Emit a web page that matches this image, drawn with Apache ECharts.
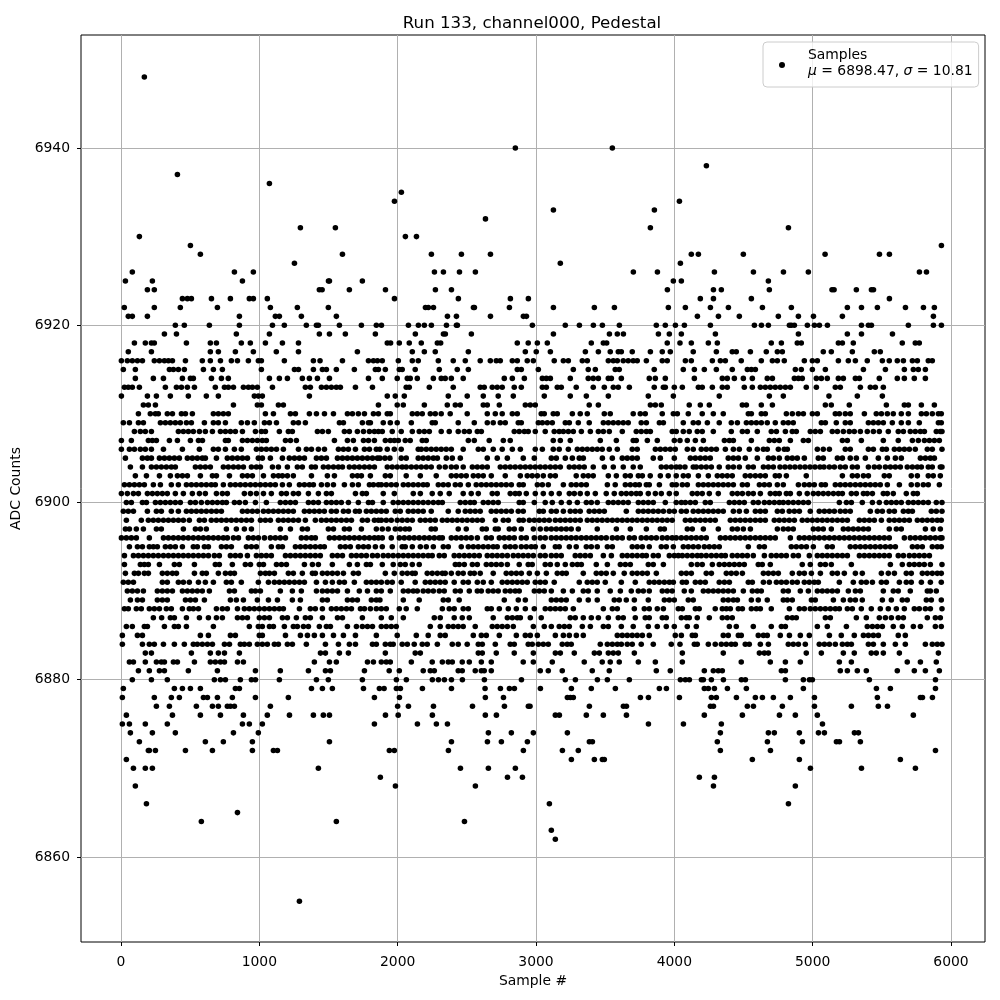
<!DOCTYPE html>
<html><head><meta charset="utf-8"><style>html,body{margin:0;padding:0;background:#fff}#c{width:1000px;height:1000px}</style>
<script src="https://cdn.jsdelivr.net/npm/echarts@6/dist/echarts.min.js"></script></head><body><div id="c"></div>
<script>
const xTicks=[0,1000,2000,3000,4000,5000,6000];
const yTicks=[6860,6880,6900,6920,6940];
const s6948=[169];
const s6940=[2851,3552];
const s6938=[4232];
const s6937=[408];
const s6936=[1073];
const s6935=[2027];
const s6934=[1977,4037];
const s6933=[3126,3856];
const s6932=[2635];
const s6931=[1297,1550,3827,4825];
const s6930=[133,2056,2136];
const s6929=[502,5931];
const s6928=[574,1601,2244,2461,2671,4123,4174,4499,5090,5483,5555];
const s6927=[1254,3176,4044];
const s6926=[82,820,957,2266,2331,2447,2562,3704,3878,4290,4572,4789,4969,5772,5823];
const s6925=[32,227,878,1500,1507,1745,3993,4051,4680];
const s6924=[191,241,1434,1454,1651,1912,2273,2389,3950,4283,4340,4687,5140,5155,5316,5425,5440];
const s6923=[444,480,509,654,791,928,957,1058,1977,2439,2815,2945,4188,4283,4557,5555];
const s6922=[24,241,429,697,1080,1275,1499,2201,2222,2259,2548,2555,2808,3126,3422,3567,3957,4080,4261,4391,4637,4846,5251,5353,5468,5671,5801,5880];
const s6921=[53,82,191,856,1116,1145,1304,1557,2360,2425,2671,2909,2931,4167,4319,4470,4752,4897,5006,5215,5873];
const s6920=[393,458,639,856,1095,1181,1340,1413,1427,1579,1738,1846,1883,2078,2150,2193,2244,2353,2425,2432,2974,3212,3314,3415,3480,3603,3870,3935,4008,4073,4261,4579,4630,4680,4832,4846,4868,4962,5013,5049,5107,5353,5403,5425,5692,5873,5931];
const s6919=[314,401,834,1073,1434,1507,1622,1839,2128,2331,2345,2533,3126,3531,3588,3632,3885,3964,4051,4297,4897,5251,5353,5577];
const s6918=[97,176,220,241,473,646,690,870,935,1044,1167,1283,1925,1949,2012,2084,2171,2287,2311,2865,2944,3010,3082,3400,3487,3511,3949,4041,4123,4246,4311,4701,4774,4889,4918,5186,5215,5294,5648,5742,5771];
const s6917=[53,220,646,704,827,957,1123,1283,1709,2106,2193,2272,2511,2923,3002,3104,3357,3451,3537,3595,3617,3696,3827,3913,3971,4137,4304,4419,4448,4550,4665,4745,4781,5077,5135,5287,5446,5489];
const s6916=[3,46,82,119,155,241,278,314,343,372,466,588,646,719,798,842,921,993,1015,1181,1391,1439,1601,1789,1825,1854,1889,2005,2106,2149,2294,2402,2489,2597,2670,2713,2742,2829,2865,2937,2981,3132,3198,3234,3335,3371,3523,3559,3588,3631,3667,3703,3732,3798,3913,3949,4080,4123,4275,4333,4369,4484,4629,4709,4745,4795,4940,4998,5034,5186,5258,5309,5395,5504,5554,5612,5656,5721,5757,5836,5865];
const s6915=[17,104,350,379,415,458,596,668,733,1015,1254,1283,1391,1456,1485,1557,1687,1839,1861,1911,2012,2033,2127,2301,2431,2511,2865,2894,3017,3270,3378,3429,3573,3602,3855,4065,4145,4217,4304,4419,4528,4557,4586,4875,4918,4998,5092,5367,5526,5663,5728,5764,5815];
const s6914=[104,234,307,444,502,523,654,726,776,1073,1145,1203,1311,1362,1420,1507,1789,1889,1997,2070,2091,2142,2258,2315,2344,2388,2474,2771,2829,2916,3046,3075,3104,3248,3378,3414,3451,3523,3545,3617,3819,3863,3935,4145,4347,4383,4434,4499,4564,4672,4709,4868,4897,4925,5027,5063,5106,5186,5222,5309,5338,5482,5612,5663,5735,5815];
const s6913=[25,53,82,133,321,401,437,480,531,682,748,776,813,885,921,950,986,1095,1333,1369,1449,1485,1521,1557,1586,1695,1818,2062,2084,2229,2402,2597,2626,2684,2720,2756,2843,2894,3046,3075,3154,3183,3291,3414,3494,3559,3595,3675,3855,3921,3935,4000,4058,4174,4202,4275,4347,4383,4506,4564,4622,4658,4694,4730,4766,4803,4839,4954,5027,5164,5200,5345,5417,5453,5511];
const s6912=[3,191,256,357,487,617,704,964,993,1022,1362,1925,1983,2048,2366,2503,2619,2727,2836,3060,3248,3364,3523,3812,3993,4325,4687,4788,5118,5323,5504];
const s6911=[162,198,249,813,986,1015,1138,1174,1861,1997,2041,2193,2359,2417,2453,2619,2648,2735,2923,2959,2995,3385,3451,3827,3863,3906,4108,4188,4253,4492,4521,4629,4709,5092,5135,5265,5533,5663,5692,5786,5880];
const s6910=[126,212,249,270,335,372,437,466,516,668,704,740,776,1044,1102,1225,1261,1362,1413,1471,1536,1637,1673,1716,1760,1825,1861,1925,1947,2106,2142,2178,2236,2272,2315,2380,2503,2648,2706,2756,2829,2865,3038,3060,3125,3154,3263,3320,3371,3494,3537,3703,3754,3790,3913,3993,4022,4101,4202,4282,4354,4535,4557,4629,4658,4810,4853,4897,4933,4998,5034,5164,5193,5236,5272,5374,5460,5497,5540,5583,5641,5692,5786,5822,5865,5909,5930];
const s6909=[17,61,126,162,285,321,357,393,429,473,509,603,668,704,755,870,914,964,1037,1073,1124,1246,1283,1333,1579,1608,1745,1789,1803,1896,1947,1997,2099,2250,2272,2438,2554,2648,2691,2742,2778,2872,2894,3017,3046,3082,3118,3212,3241,3306,3385,3487,3523,3559,3595,3631,3667,3761,3798,3892,3921,4065,4137,4174,4239,4325,4412,4456,4521,4557,4593,4629,4672,4730,4788,4824,4860,5063,5092,5171,5236,5272,5403,5439,5475,5511,5576,5641,5692,5771,5909,5930];
const s6908=[97,140,176,220,415,451,487,523,567,610,661,719,755,791,827,878,972,1015,1044,1145,1210,1239,1420,1456,1499,1615,1651,1709,1753,1796,1832,1861,1889,1961,2026,2106,2156,2193,2229,2315,2373,2438,2482,2518,2576,2605,2843,2879,2916,2944,2995,3067,3132,3168,3198,3234,3270,3328,3393,3451,3487,3530,3624,3725,3761,3798,3827,3985,4014,4065,4108,4166,4202,4282,4412,4492,4528,4600,4701,4738,4803,4853,4882,4983,5019,5056,5142,5179,5222,5265,5301,5345,5395,5439,5482,5547,5619,5656,5706,5742,5779,5808,5894,5923,5935];
const s6907=[3,75,198,227,256,350,408,502,560,589,755,776,878,914,950,986,1022,1051,1189,1225,1268,1543,1637,1680,1753,1789,1832,1911,1947,1976,2005,2055,2091,2178,2207,2511,2554,2662,2764,2814,3125,3176,3248,3465,3581,3703,3725,3805,3877,4000,4041,4094,4152,4210,4362,4398,4427,4557,4687,4723,4759,4839,4933,4969,5215,5251,5352,5511,5619,5721,5764,5808,5844,5880,5916];
const s6906=[3,61,97,140,176,220,307,444,567,668,704,755,820,870,979,1015,1051,1087,1124,1174,1283,1340,1377,1427,1471,1572,1608,1644,1695,1760,1796,1846,1872,1925,1976,2026,2149,2171,2207,2243,2279,2315,2351,2388,2474,2583,2619,2691,2756,2829,2887,2995,3046,3125,3168,3234,3299,3335,3371,3407,3443,3479,3530,3588,3696,3732,3863,3899,3935,3971,4007,4094,4137,4195,4231,4268,4304,4369,4427,4470,4542,4600,4644,4672,4752,4795,4817,5034,5077,5121,5236,5272,5403,5439,5504,5533,5591,5627,5663,5699,5742,5829,5865,5935];
const s6905=[32,155,191,220,278,314,350,386,422,480,516,552,588,610,690,769,805,842,878,914,993,1022,1080,1167,1217,1254,1290,1326,1413,1449,1485,1565,1601,1637,1673,1709,1745,1782,1818,1854,1872,1908,1944,2026,2062,2149,2185,2221,2258,2287,2352,2395,2453,2648,2720,2793,2908,2988,3111,3147,3212,3263,3313,3342,3480,3552,3624,3660,3696,3732,3848,3899,4000,4116,4152,4188,4224,4260,4390,4427,4463,4513,4600,4680,4716,4759,4817,4853,4889,4940,5041,5077,5179,5215,5272,5316,5381,5475,5540,5598,5641,5779,5815,5851,5880];
const s6904=[68,155,220,256,292,328,364,393,538,574,610,646,740,776,813,849,885,943,979,1008,1095,1138,1203,1275,1311,1377,1405,1463,1499,1536,1572,1601,1651,1687,1723,1760,1796,1832,1925,1961,1997,2033,2062,2099,2135,2171,2207,2243,2301,2344,2388,2424,2474,2540,2576,2612,2648,2742,2778,2814,2850,2887,2923,2959,2995,3031,3067,3104,3140,3176,3241,3277,3313,3349,3414,3494,3559,3631,3703,3754,3906,3942,3978,4014,4041,4077,4137,4159,4195,4231,4268,4325,4390,4427,4470,4535,4571,4644,4680,4716,4764,4800,4836,4872,4909,4945,4981,5017,5053,5082,5121,5157,5200,5236,5287,5323,5403,5446,5482,5526,5562,5598,5634,5684,5721,5757,5786,5836,5865,5923,5935];
const s6903=[104,184,278,357,408,444,480,574,661,690,784,878,914,950,1030,1102,1138,1167,1203,1246,1377,1492,1543,1673,1709,1738,1803,1911,1947,2062,2164,2279,2388,2424,2460,2496,2547,2583,2619,2677,2778,2887,2937,2973,3010,3053,3104,3140,3291,3342,3378,3414,3523,3581,3646,3682,3740,3769,3826,3899,3956,4014,4065,4101,4174,4246,4311,4347,4383,4419,4513,4549,4586,4622,4658,4730,4759,4810,4954,5215,5287,5323,5367,5403,5518,5554,5713,5757,5836,5872,5923];
const s6902=[25,61,97,133,169,234,285,364,415,473,509,545,581,617,653,682,740,791,827,863,899,936,972,1008,1044,1080,1116,1167,1217,1290,1326,1362,1391,1449,1492,1536,1615,1673,1716,1796,1825,1861,1882,1918,1954,1990,2041,2077,2113,2149,2185,2214,2294,2330,2366,2417,2453,2511,2568,2605,2641,2677,2713,2749,2785,2822,2879,2908,3010,3046,3089,3198,3255,3291,3328,3364,3516,3573,3646,3682,3718,3747,3798,3819,3892,3985,4014,4058,4094,4174,4210,4246,4282,4318,4354,4390,4427,4492,4528,4615,4651,4687,4745,4788,4897,4940,4976,5012,5063,5092,5164,5200,5236,5272,5309,5345,5381,5417,5453,5489,5540,5627,5713,5757,5800,5836,5916];
const s6901=[3,46,90,126,191,227,263,299,335,393,451,516,567,610,690,733,769,892,936,979,1030,1087,1160,1196,1246,1283,1355,1427,1485,1521,1695,1745,1774,1896,1976,2113,2164,2250,2308,2373,2474,2532,2583,2684,2720,2814,2850,2879,2930,2995,3053,3111,3168,3241,3277,3320,3371,3429,3508,3566,3617,3653,3689,3725,3754,3812,3863,3906,3964,4014,4130,4166,4202,4253,4318,4419,4456,4492,4535,4571,4622,4694,4730,4759,4810,4839,4904,4961,5005,5041,5077,5113,5150,5186,5215,5280,5316,5367,5395,5432,5511,5540,5583,5677,5728,5757];
const s6900=[39,75,155,184,249,285,321,357,393,429,502,538,581,625,661,697,733,762,820,856,899,972,1051,1152,1189,1225,1261,1355,1391,1427,1485,1521,1557,1593,1644,1716,1789,1818,1896,1968,2005,2041,2077,2113,2149,2185,2221,2258,2294,2323,2453,2489,2525,2554,2619,2655,2691,2727,2879,2908,2988,3067,3118,3183,3241,3299,3364,3400,3443,3523,3559,3595,3631,3667,3740,3776,3812,3848,3935,4014,4051,4080,4116,4152,4224,4260,4398,4434,4470,4506,4571,4607,4651,4687,4723,4759,4788,4824,4860,4897,4933,4969,5193,5244,5280,5359,5432,5482,5533,5569,5605,5641,5692,5728,5764,5800,5836,5894,5935];
const s6899=[17,53,90,191,256,292,364,415,473,509,545,581,617,654,690,726,878,914,950,986,1030,1066,1102,1138,1174,1210,1246,1326,1362,1398,1434,1470,1521,1557,1608,1644,1695,1723,1774,1810,1846,1882,1918,1983,2019,2077,2113,2149,2185,2243,2366,2438,2489,2525,2561,2597,2677,2713,2749,2785,2822,2872,2908,3024,3053,3111,3147,3198,3248,3284,3320,3385,3422,3458,3494,3653,3740,3776,3812,3848,3884,3921,3964,4000,4051,4087,4137,4174,4210,4246,4282,4318,4354,4427,4470,4521,4586,4622,4658,4745,4781,4831,4868,4904,4983,5048,5085,5121,5157,5200,5236,5272,5417,5468,5504,5554,5591,5656,5692,5721,5858,5894,5935];
const s6898=[39,147,198,234,270,307,343,379,415,451,494,567,603,653,690,726,762,798,834,870,907,943,1008,1044,1080,1138,1174,1210,1246,1283,1333,1405,1449,1485,1521,1557,1593,1630,1666,1745,1782,1832,1861,1882,1918,1954,1997,2033,2070,2106,2164,2200,2236,2272,2323,2359,2395,2431,2467,2503,2540,2576,2612,2706,2764,2800,2879,2908,2952,2988,3024,3060,3096,3140,3176,3212,3248,3284,3320,3371,3407,3443,3479,3516,3552,3588,3624,3660,3696,3732,3769,3805,3841,3877,3913,3949,3985,4080,4116,4152,4188,4224,4260,4296,4405,4441,4477,4513,4549,4586,4622,4658,4723,4759,4795,4831,4868,4925,4962,4998,5034,5070,5106,5142,5179,5215,5251,5338,5374,5410,5446,5497,5554,5591,5627,5663,5699,5757,5793,5829,5865,5901,5930];
const s6897=[32,61,111,162,256,292,451,538,574,617,762,834,892,943,1152,1225,1311,1348,1499,1536,1615,1651,1738,1846,1889,1932,1983,2019,2055,2084,2243,2272,2438,2496,2612,2641,2706,2727,2807,2843,2894,2981,3031,3075,3111,3147,3183,3219,3255,3306,3443,3581,3682,3798,3899,3928,4094,4130,4210,4318,4419,4456,4499,4550,4745,4788,4824,4860,5005,5041,5077,5135,5222,5258,5294,5330,5367,5403,5554,5605,5641,5815,5872,5923];
const s6896=[3,39,75,111,205,307,343,379,415,451,487,523,560,596,632,668,704,740,769,813,849,921,957,993,1037,1080,1116,1152,1189,1304,1340,1377,1405,1507,1543,1579,1615,1651,1687,1723,1760,1796,1832,1861,1889,1954,2012,2048,2084,2120,2156,2193,2229,2265,2301,2323,2388,2424,2460,2496,2532,2576,2641,2677,2735,2771,2807,2843,2894,2930,2988,3031,3067,3111,3147,3183,3219,3255,3291,3328,3364,3400,3436,3472,3508,3552,3588,3624,3675,3711,3761,3798,3834,3870,3913,3949,3985,4014,4051,4087,4123,4159,4195,4231,4333,4369,4405,4441,4477,4513,4549,4586,4622,4658,4694,4730,4839,4904,4940,4976,5012,5048,5085,5121,5157,5193,5229,5265,5301,5338,5374,5410,5446,5482,5518,5554,5663,5706,5742,5779,5815,5851,5887,5923,5935];
const s6895=[61,119,155,205,234,263,321,357,393,444,523,552,603,632,726,762,798,907,943,979,1087,1138,1167,1261,1297,1333,1369,1405,1441,1470,1586,1622,1658,1716,1753,1789,1839,1889,1961,2033,2055,2106,2164,2207,2258,2330,2366,2460,2511,2547,2583,2619,2655,2691,2720,2778,2814,2850,2894,2930,2966,2995,3053,3140,3168,3241,3291,3364,3400,3443,3516,3552,3696,3732,3769,3819,3906,3942,3993,4065,4101,4137,4174,4217,4253,4289,4325,4535,4615,4651,4846,4882,4919,4955,5005,5106,5142,5272,5309,5345,5381,5417,5453,5489,5526,5562,5598,5721,5757,5793,5865,5901,5930];
const s6894=[25,90,126,162,198,234,270,307,343,379,415,451,487,523,560,596,632,675,711,791,827,863,914,979,1015,1051,1087,1189,1225,1261,1297,1333,1369,1405,1441,1528,1565,1601,1666,1702,1738,1774,1818,1854,1896,1932,1968,2005,2041,2077,2113,2149,2185,2221,2250,2301,2337,2409,2445,2482,2518,2554,2590,2648,2684,2720,2756,2793,2836,2872,2908,2944,2981,3031,3067,3111,3147,3183,3284,3320,3356,3393,3487,3545,3624,3660,3696,3732,3769,3798,3848,3884,3964,4000,4029,4058,4094,4130,4166,4195,4231,4268,4304,4340,4369,4419,4456,4492,4528,4571,4651,4701,4738,4774,4810,4860,4897,4976,5034,5070,5106,5142,5179,5215,5251,5338,5374,5410,5446,5482,5518,5554,5619,5656,5699,5735,5771,5807,5844];
const s6893=[25,140,169,198,278,386,422,531,682,711,805,899,936,1000,1030,1124,1160,1196,1326,1384,1427,1528,1651,1709,1774,1803,1889,1968,2019,2055,2106,2156,2417,2445,2482,2540,2576,2641,2677,2713,2749,2793,2879,2944,2973,3067,3104,3154,3212,3263,3299,3328,3436,3516,3610,3646,3682,3812,3848,3921,4123,4166,4202,4275,4325,4362,4398,4434,4470,4506,4607,4636,4694,4925,4983,5056,5092,5135,5280,5562,5648,5699,5735,5771,5807,5851,5935];
const s6892=[32,97,126,169,198,299,335,372,401,531,588,617,704,755,791,820,1008,1044,1073,1109,1210,1246,1311,1384,1405,1456,1492,1528,1565,1608,1680,1716,1911,1976,2033,2070,2106,2127,2214,2250,2287,2323,2344,2388,2438,2474,2525,2554,2597,2691,2785,2822,2858,2894,2952,3010,3075,3154,3190,3219,3342,3436,3472,3508,3559,3638,3696,3732,3769,3805,3870,4051,4087,4123,4231,4268,4376,4412,4448,4492,4644,4680,4716,4752,4853,4904,4940,4991,5056,5142,5179,5229,5309,5359,5497,5547,5591,5677,5713,5793,5829,5865,5901,5930];
const s6891=[17,53,90,299,335,415,451,494,560,610,668,762,798,870,993,1066,1109,1145,1181,1217,1254,1290,1326,1413,1478,1528,1579,1615,1687,1774,1810,1846,1882,1925,1961,2026,2127,2200,2236,2272,2308,2344,2409,2474,2511,2576,2619,2677,2756,2793,2829,2865,2901,2937,2995,3031,3067,3132,3313,3371,3407,3443,3501,3617,3718,3819,3855,3891,3928,3964,3993,4058,4087,4152,4188,4224,4325,4362,4398,4535,4564,4644,4687,4738,4774,4810,4853,4889,4940,4976,5012,5041,5193,5294,5352,5388,5432,5497,5533,5627,5677,5713,5786,5851,5930];
const s6890=[46,82,119,162,263,299,335,372,444,480,516,552,588,639,784,820,943,972,1008,1152,1239,1304,1413,1456,1492,1528,1565,1637,1723,1782,1846,1882,1947,2041,2077,2113,2142,2185,2221,2258,2301,2337,2417,2453,2518,2576,2605,2655,2691,2727,2778,2814,2850,2879,2988,3024,3060,3111,3198,3263,3342,3378,3443,3537,3610,3689,3740,3776,3819,3913,3949,3985,4072,4123,4210,4246,4282,4318,4354,4390,4427,4499,4564,4600,4629,4788,4824,4911,4969,5034,5070,5106,5142,5179,5258,5309,5345,5511,5583,5619,5706,5829,5851,5894];
const s6889=[68,119,155,263,299,335,466,502,538,603,791,834,885,986,1066,1131,1239,1297,1456,1492,1637,1673,1709,1810,1846,1872,2041,2156,2330,2366,2445,2771,2872,2923,3111,3147,3183,3219,3313,3378,3443,3566,3602,3653,3711,3812,3928,3964,4000,4101,4137,4354,4390,4427,4456,4557,4607,4672,4788,4817,4853,4991,5019,5150,5222,5272,5309,5359,5504,5569,5648,5684,5822,5858,5930];
const s6888=[25,53,111,147,205,241,278,328,364,444,494,523,560,690,733,769,842,892,928,964,1000,1037,1073,1109,1145,1174,1290,1369,1405,1456,1521,1557,1593,1630,1666,1731,1760,1803,1846,1882,1918,2012,2062,2142,2323,2373,2409,2474,2511,2648,2677,2735,2800,2858,2923,2988,3067,3104,3140,3176,3212,3270,3487,3552,3588,3711,3783,3819,3877,3921,4029,4058,4152,4180,4296,4347,4376,4405,4463,4492,4557,4593,4622,4701,4832,4904,4940,4983,5019,5056,5092,5128,5164,5193,5251,5287,5352,5424,5489,5547,5605,5663,5735,5771,5815,5851,5935];
const s6887=[234,294,357,386,473,567,632,690,733,842,878,914,1000,1037,1073,1167,1203,1268,1333,1369,1456,1565,1601,1745,1882,1954,2041,2265,2308,2409,2467,2518,2691,2793,2829,2865,2887,2959,3038,3248,3284,3342,3400,3451,3523,3595,3631,3718,3790,3819,3913,3942,4051,4087,4108,4166,4253,4347,4383,4419,4817,4853,4882,5092,5128,5316,5388,5482,5526,5569,5619,5656,5829,5887,5923];
const s6886=[39,82,169,191,314,386,415,473,668,928,993,1022,1073,1102,1181,1246,1275,1319,1355,1434,1485,1514,1637,1702,1745,1782,1818,1882,1918,1954,1990,2236,2308,2366,2402,2438,2474,2561,2684,2720,2756,2793,2836,2981,3060,3111,3168,3205,3241,3335,3393,3487,3523,3617,3703,3812,3877,3942,4000,4094,4159,4398,4448,4571,4701,4774,4803,5034,5106,5244,5395,5432,5468,5504,5583,5648,5728,5779,5887,5930];
const s6885=[10,119,155,574,632,791,827,1000,1022,1189,1297,1348,1398,1456,1536,1608,1695,1846,1997,2135,2221,2308,2344,2547,2605,2641,2735,2858,2923,2959,3010,3140,3198,3241,3292,3342,3588,3624,3660,3696,3732,3769,3819,4007,4051,4130,4152,4354,4390,4463,4484,4607,4644,4672,4766,4832,4911,4976,5121,5207,5301,5367,5403,5439,5475,5619,5670];
const s6884=[10,155,205,241,307,386,458,523,552,588,625,661,748,784,863,892,928,986,1022,1058,1109,1138,1203,1239,1340,1478,1572,1651,1695,1818,1846,1911,1947,1968,2033,2070,2120,2178,2214,2287,2395,2438,2503,2583,2612,2706,2814,2843,2944,2973,3017,3053,3089,3190,3226,3255,3465,3516,3552,3588,3617,3660,3696,3761,3848,3978,4041,4145,4166,4246,4296,4340,4376,4412,4441,4513,4542,4622,4680,4824,4860,4897,4947,5048,5085,5121,5164,5215,5251,5280,5403,5439,5511,5598,5670,5815,5865,5901,5935];
const s6883=[176,220,509,646,704,748,856,1442,1478,1579,1644,1911,2127,2164,2583,2612,2713,2843,2981,3140,3176,3277,3422,3458,3523,3559,3595,3711,4058,4354,4615,4651,4680,4954,5063,5222,5301,5424,5460,5511,5627,5909];
const s6882=[61,90,176,256,292,314,379,408,531,646,682,719,748,842,885,1398,1507,1557,1782,1825,1882,1918,1947,2099,2250,2323,2366,2395,2467,2518,2605,2677,2908,2981,3118,3349,3479,3537,3602,3740,3863,4058,4484,4694,4803,4911,5193,5280,5684,5779,5894];
const s6881=[126,205,278,314,487,697,972,1152,1355,1478,1514,1760,1939,2012,2185,2236,2265,2438,2467,2561,2605,2626,2677,3031,3089,3190,3407,3530,3870,3971,4217,4282,4318,4347,4774,4803,5200,5251,5323,5388,5612,5735,5815,5916];
const s6880=[82,220,335,675,719,755,863,943,972,1145,1413,1499,1745,1991,2063,2251,2295,2338,2389,2468,2627,2895,3212,3285,3444,3516,3675,4044,4080,4109,4196,4210,4268,4355,4485,4514,4803,4933,4977,4998,5410,5888];
const s6879=[17,386,444,502,574,827,856,1377,1456,1528,1753,1868,1902,1991,2020,2179,2389,2632,2743,2808,2844,3032,3256,3400,3574,3892,3943,4217,4246,4290,4384,4521,4933,5461,5562,5888];
const s6878=[10,241,364,422,596,625,697,805,972,1210,1832,2013,2634,2765,3227,3249,3270,3755,3813,4037,4268,4304,4449,4586,4637,4716,4839,5013,5468,5779,5794,5866];
const s6877=[256,350,545,661,704,769,791,820,1080,2000,2078,2259,2541,2772,2945,2957,3386,3632,3654,4261,4283,4528,4572,4781,5013,5280,5475,5541];
const s6876=[39,372,574,719,885,1058,1218,1391,1463,1507,1912,2004,2251,2634,2714,3140,3169,3364,3487,3654,4217,4492,4760,4875,5034,5728];
const s6875=[10,61,176,335,878,928,1022,1832,2143,2280,2360,3813,4066,4340,5071];
const s6874=[68,227,393,813,993,2656,2822,2981,3227,4333,4680,4723,4904,5042,5085,5302,5331];
const s6873=[133,610,740,950,1507,2389,2649,2750,2938,3386,3408,4311,4673,4926,5172,5194,5345];
const s6872=[198,205,249,466,661,950,1102,1131,1940,1976,2367,2909,3191,3306,4333,4695,5888];
const s6871=[39,3256,3422,3480,3494,4564,4904,5634];
const s6870=[90,176,227,1427,2454,2656,2851,4984,5353,5743];
const s6869=[1875,2794,2902,4181,4290];
const s6868=[104,1984,2562,4283,4875];
const s6866=[184,3097,4825];
const s6865=[842];
const s6864=[581,1557,2483];
const s6863=[3111];
const s6862=[3140];
const s6855=[1290];
const rows=[[6948,s6948],[6940,s6940],[6938,s6938],[6937,s6937],[6936,s6936],[6935,s6935],[6934,s6934],[6933,s6933],[6932,s6932],[6931,s6931],[6930,s6930],[6929,s6929],[6928,s6928],[6927,s6927],[6926,s6926],[6925,s6925],[6924,s6924],[6923,s6923],[6922,s6922],[6921,s6921],[6920,s6920],[6919,s6919],[6918,s6918],[6917,s6917],[6916,s6916],[6915,s6915],[6914,s6914],[6913,s6913],[6912,s6912],[6911,s6911],[6910,s6910],[6909,s6909],[6908,s6908],[6907,s6907],[6906,s6906],[6905,s6905],[6904,s6904],[6903,s6903],[6902,s6902],[6901,s6901],[6900,s6900],[6899,s6899],[6898,s6898],[6897,s6897],[6896,s6896],[6895,s6895],[6894,s6894],[6893,s6893],[6892,s6892],[6891,s6891],[6890,s6890],[6889,s6889],[6888,s6888],[6887,s6887],[6886,s6886],[6885,s6885],[6884,s6884],[6883,s6883],[6882,s6882],[6881,s6881],[6880,s6880],[6879,s6879],[6878,s6878],[6877,s6877],[6876,s6876],[6875,s6875],[6874,s6874],[6873,s6873],[6872,s6872],[6871,s6871],[6870,s6870],[6869,s6869],[6868,s6868],[6866,s6866],[6865,s6865],[6864,s6864],[6863,s6863],[6862,s6862],[6855,s6855]];
const points=[];
rows.forEach(([v,xs])=>xs.forEach(x=>points.push([x,v])));
const font='"DejaVu Sans"';
const fs=13.9;
const chart=echarts.init(document.getElementById('c'),null,{renderer:'canvas'});
chart.setOption({
 animation:false,
 backgroundColor:'#fff',
 title:{text:'Run 133, channel000, Pedestal',left:527,top:10,textAlign:'center',textStyle:{fontFamily:font,fontSize:16.67,fontWeight:'normal',color:'#000'}},
 grid:{left:81,top:35,width:904,height:907,show:true,borderColor:'#000',borderWidth:1,backgroundColor:'#fff',containLabel:false},
 xAxis:{type:'value',min:-289,max:6246,name:'Sample #',nameLocation:'middle',nameGap:26,
  nameTextStyle:{fontFamily:font,fontSize:fs,color:'#000'},
  axisLine:{show:false,onZero:false},
  axisTick:{show:true,length:4,lineStyle:{color:'#000',width:1},customValues:xTicks},
  axisLabel:{fontFamily:font,fontSize:fs,color:'#000',margin:13,customValues:xTicks,formatter:v=>String(v)},
  splitLine:{show:true,lineStyle:{color:'#b0b0b0',width:1}}},
 yAxis:{type:'value',min:6850.4,max:6952.75,name:'ADC Counts',nameLocation:'middle',nameGap:48,nameRotate:90,
  nameTextStyle:{fontFamily:font,fontSize:fs,color:'#000'},
  axisLine:{show:false,onZero:false},
  axisTick:{show:true,length:4,lineStyle:{color:'#000',width:1},customValues:yTicks},
  axisLabel:{fontFamily:font,fontSize:fs,color:'#000',margin:11,customValues:yTicks,formatter:v=>String(v)},
  splitLine:{show:true,lineStyle:{color:'#b0b0b0',width:1}}},
 legend:{show:true,left:763,top:42,orient:'vertical',padding:[5,6,4,16],itemWidth:36,itemHeight:6,
  backgroundColor:'rgba(255,255,255,0.8)',borderColor:'#cccccc',borderWidth:1,borderRadius:4,
  icon:'circle',
  data:[{name:'Samples',icon:'circle'}],
  formatter:()=>'Samples\n{i|μ} = 6898.47, {i|σ} = 10.81',
  textStyle:{fontFamily:font,fontSize:fs,color:'#000',lineHeight:16,padding:[0,0,4,3],
   rich:{i:{fontFamily:font,fontSize:fs,fontStyle:'italic',color:'#000',lineHeight:16}}}},
 series:[{type:'scatter',name:'Samples',data:points,symbol:'circle',symbolSize:5.56,
  itemStyle:{color:'#000',opacity:1},large:false,progressive:0,emphasis:{disabled:true},z:3}]
});
</script></body></html>
